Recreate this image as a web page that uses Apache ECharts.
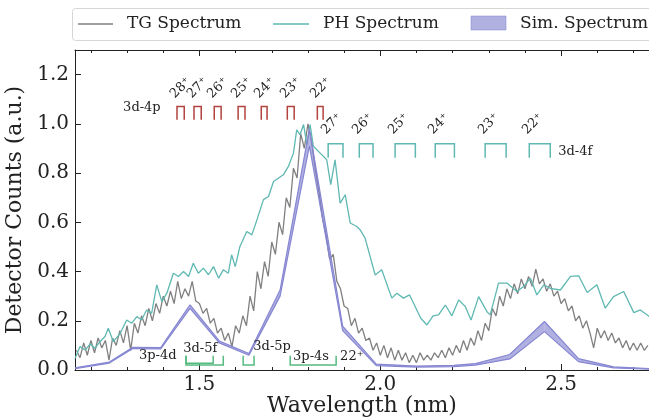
<!DOCTYPE html>
<html>
<head>
<meta charset="utf-8">
<script src="https://cdn.jsdelivr.net/npm/echarts@6/dist/echarts.min.js"></script>
<style>
  html, body { margin: 0; padding: 0; background: #fff; }
  #main { width: 649px; height: 420px; }
</style>
</head>
<body>
<div id="main"></div>
<script>
// TG spectrum, sampled on an even wavelength grid
var tgStart = 1.16, tgStep = 0.01;
var tgValues = [
  0.08, 0.05, 0.11, 0.06, 0.12, 0.07, 0.13, 0.09, 0.12, 0.04,
  0.13, 0.10, 0.16, 0.11, 0.18, 0.08, 0.19, 0.15, 0.22, 0.18,
  0.25, 0.20, 0.27, 0.23, 0.30, 0.26, 0.32, 0.27, 0.36, 0.29,
  0.33, 0.30, 0.36, 0.28, 0.27, 0.23, 0.25, 0.19, 0.21, 0.15,
  0.17, 0.12, 0.15, 0.095, 0.18, 0.15, 0.22, 0.18, 0.30, 0.24,
  0.40, 0.33, 0.44, 0.38, 0.52, 0.47, 0.60, 0.55, 0.70, 0.66,
  0.82, 0.78, 0.96, 0.90, 1.00, 0.93, 0.82, 0.73, 0.62, 0.55,
  0.45, 0.47, 0.36, 0.33, 0.26, 0.25, 0.18, 0.21, 0.15, 0.17,
  0.12, 0.13, 0.08, 0.11, 0.06, 0.10, 0.05, 0.09, 0.04, 0.08,
  0.04, 0.07, 0.03, 0.06, 0.03, 0.07, 0.04, 0.06, 0.04, 0.07,
  0.05, 0.08, 0.05, 0.09, 0.06, 0.10, 0.07, 0.12, 0.08, 0.13,
  0.10, 0.16, 0.12, 0.19, 0.16, 0.25, 0.22, 0.30, 0.26, 0.33,
  0.29, 0.35, 0.31, 0.37, 0.33, 0.38, 0.34, 0.41, 0.35, 0.37,
  0.32, 0.35, 0.30, 0.32, 0.27, 0.29, 0.24, 0.26, 0.20, 0.22,
  0.17, 0.20, 0.15, 0.09, 0.17, 0.13, 0.16, 0.12, 0.15, 0.11,
  0.13, 0.09, 0.12, 0.08, 0.11, 0.08, 0.11, 0.08, 0.10
];

// PH spectrum
var phWave = [
  1.156, 1.170, 1.184, 1.198, 1.211, 1.225, 1.239, 1.248, 1.262, 1.281,
  1.299, 1.313, 1.327, 1.340, 1.354, 1.368, 1.382, 1.396, 1.410, 1.428,
  1.442, 1.456, 1.470, 1.483, 1.497, 1.511, 1.525, 1.539, 1.553, 1.566,
  1.580, 1.589, 1.599, 1.612, 1.631, 1.645, 1.659, 1.677, 1.691, 1.705,
  1.719, 1.732, 1.746, 1.760, 1.769, 1.778, 1.788, 1.797, 1.806, 1.815,
  1.834, 1.852, 1.863, 1.875, 1.889, 1.903, 1.917, 1.935, 1.944, 1.958,
  1.986, 2.004, 2.032, 2.046, 2.064, 2.081, 2.112, 2.129, 2.146, 2.161,
  2.180, 2.198, 2.217, 2.235, 2.251, 2.272, 2.295, 2.304, 2.327, 2.350,
  2.378, 2.396, 2.415, 2.433, 2.452, 2.470, 2.498, 2.526, 2.549, 2.572,
  2.599, 2.622, 2.645, 2.673, 2.701, 2.719, 2.744
];
var phValues = [
  0.047, 0.095, 0.081, 0.106, 0.088, 0.115, 0.136, 0.170, 0.115, 0.149,
  0.203, 0.190, 0.217, 0.203, 0.244, 0.231, 0.346, 0.278, 0.312, 0.393,
  0.380, 0.400, 0.380, 0.434, 0.393, 0.414, 0.387, 0.420, 0.373, 0.407,
  0.393, 0.468, 0.420, 0.502, 0.563, 0.549, 0.610, 0.692, 0.705, 0.766,
  0.780, 0.793, 0.827, 0.881, 0.976, 0.956, 0.997, 0.915, 0.997, 0.909,
  0.881, 0.854, 0.753, 0.854, 0.678, 0.712, 0.597, 0.583, 0.570, 0.536,
  0.386, 0.407, 0.292, 0.312, 0.292, 0.305, 0.210, 0.183, 0.220, 0.224,
  0.264, 0.220, 0.285, 0.258, 0.203, 0.298, 0.237, 0.224, 0.353, 0.353,
  0.319, 0.339, 0.373, 0.305, 0.346, 0.332, 0.325, 0.380, 0.382, 0.315,
  0.346, 0.251, 0.298, 0.319, 0.233, 0.244, 0.217
];

// simulated spectrum band
var simWave  = [1.156, 1.251, 1.316, 1.393, 1.474, 1.555, 1.637, 1.723, 1.804, 1.896,
                1.989, 2.101, 2.203, 2.263, 2.358, 2.454, 2.548, 2.645, 2.744];
var simLower = [0.005, 0.028, 0.087, 0.086, 0.250, 0.110, 0.060, 0.300, 0.910, 0.160,
                0.018, 0.012, 0.014, 0.020, 0.045, 0.156, 0.034, 0.009, 0.003];
var simUpper = [0.009, 0.032, 0.092, 0.091, 0.265, 0.118, 0.067, 0.325, 0.980, 0.178,
                0.024, 0.016, 0.019, 0.026, 0.063, 0.197, 0.046, 0.013, 0.006];

var majorTicks = [1.5, 2.0, 2.5];
var minorTicks = [1.2, 1.3, 1.4, 1.6, 1.7, 1.8, 1.9, 2.1, 2.2, 2.3, 2.4, 2.6, 2.7];
var yTicks = [0, 0.2, 0.4, 0.6, 0.8, 1.0, 1.2];

// line identification markers
var p4Ions  = ['28', '27', '26', '25', '24', '23', '22'];
var p4Left  = [1.438, 1.485, 1.541, 1.607, 1.671, 1.743, 1.826];
var p4Right = [1.458, 1.505, 1.560, 1.626, 1.687, 1.762, 1.842];
var f4Ions  = ['27', '26', '25', '24', '23', '22'];
var f4Left  = [1.856, 1.942, 2.041, 2.152, 2.290, 2.412];
var f4Right = [1.897, 1.980, 2.097, 2.205, 2.348, 2.470];
var lowLeft   = [1.463, 1.463, 1.621, 1.751];
var lowRight  = [1.538, 1.566, 1.651, 1.878];
var lowBottom = [0.027, 0.020, 0.020, 0.020];
var lowLabels = ['3p-4d', '3d-5f', '3d-5p', '3p-4s', '22⁺'];
var lowLabelX = [1.333, 1.455, 1.649, 1.759, 1.889];
var lowLabelY = [0.057, 0.086, 0.093, 0.054, 0.053];

var serif = "'DejaVu Serif', serif";
var ink = '#222';
var tgColor = '#808080';
var phColor = '#5fb8b2';
var simLine = '#8686d2';
var simFill = 'rgba(128,128,206,0.62)';
var redColor = '#b2423d';
var greenColor = '#55bb80';

var xMin = 1.156, xMax = 2.743;

function bracketSeries(lefts, rights, yClosed, yOpen, color, ions, labelY) {
  return {
    type: 'custom',
    silent: true,
    z: 5,
    data: lefts.map(function (l, i) {
      return [l, rights[i], Array.isArray(yClosed) ? yClosed[i] : yClosed, yOpen];
    }),
    encode: { x: [0, 1], y: [2, 3] },
    renderItem: function (params, api) {
      var a = api.coord([api.value(0), api.value(3)]);
      var b = api.coord([api.value(0), api.value(2)]);
      var c = api.coord([api.value(1), api.value(2)]);
      var d = api.coord([api.value(1), api.value(3)]);
      var kids = [{
        type: 'polyline',
        shape: { points: [a, b, c, d] },
        style: { stroke: color, lineWidth: 1.5, fill: null }
      }];
      if (ions) {
        var t = api.coord([api.value(0), labelY]);
        kids.push({
          type: 'text', x: t[0], y: t[1], rotation: Math.PI / 4,
          style: { text: ions[params.dataIndex] + '⁺', fontSize: 13, fontFamily: serif,
                   fill: ink, align: 'left', verticalAlign: 'bottom' }
        });
      }
      return { type: 'group', children: kids };
    }
  };
}

// band pieces between consecutive simulated points
var bandData = [];
for (var i = 0; i < simWave.length - 1; i++) {
  bandData.push([simWave[i], simLower[i], simUpper[i], simWave[i + 1], simLower[i + 1], simUpper[i + 1]]);
}

var chart = echarts.init(document.getElementById('main'));

var option = {
  animation: false,
  grid: { left: 75, right: 0, top: 50, bottom: 50, outerBoundsMode: 'none', containLabel: false },
  xAxis: [
    {
      type: 'value', min: xMin, max: xMax, position: 'bottom',
      axisLine: { lineStyle: { color: ink, width: 1 } },
      axisTick: { inside: true, length: 6, customValues: majorTicks, lineStyle: { color: ink } },
      axisLabel: { customValues: majorTicks, formatter: function (v) { return v.toFixed(1); },
                   fontSize: 20, fontFamily: serif, color: ink, margin: 5 },
      splitLine: { show: false },
      name: 'Wavelength (nm)', nameLocation: 'middle', nameGap: 25, nameMoveOverlap: false,
      nameTextStyle: { fontSize: 22, fontFamily: serif, color: ink }
    },
    {
      type: 'value', min: xMin, max: xMax, position: 'bottom',
      axisLine: { show: false },
      axisTick: { inside: true, length: 3, customValues: minorTicks, lineStyle: { color: ink } },
      axisLabel: { show: false }, splitLine: { show: false }
    },
    {
      type: 'value', min: xMin, max: xMax, position: 'top',
      axisLine: { lineStyle: { color: ink, width: 1 } },
      axisTick: { inside: true, length: 6, customValues: majorTicks, lineStyle: { color: ink } },
      axisLabel: { show: false }, splitLine: { show: false }
    },
    {
      type: 'value', min: xMin, max: xMax, position: 'top',
      axisLine: { show: false },
      axisTick: { inside: true, length: 3, customValues: minorTicks, lineStyle: { color: ink } },
      axisLabel: { show: false }, splitLine: { show: false }
    }
  ],
  yAxis: {
    type: 'value', min: 0, max: 1.3, position: 'left',
    axisLine: { show: true, lineStyle: { color: ink, width: 1 } },
    axisTick: { show: true, inside: true, length: 6, customValues: yTicks, lineStyle: { color: ink } },
    axisLabel: { customValues: yTicks, formatter: function (v) { return v.toFixed(1); },
                 fontSize: 20, fontFamily: serif, color: ink, margin: 6 },
    splitLine: { show: false },
    name: 'Detector Counts (a.u.)', nameLocation: 'middle', nameGap: 43,
    nameTextStyle: { fontSize: 22, fontFamily: serif, color: ink }
  },
  series: [
    {
      name: 'TG Spectrum', type: 'line', symbol: 'none', z: 2,
      data: tgValues.map(function (v, i) { return [tgStart + i * tgStep, v]; }),
      lineStyle: { color: tgColor, width: 1.3 }
    },
    {
      name: 'PH Spectrum', type: 'line', symbol: 'none', z: 2,
      data: phWave.map(function (w, i) { return [w, phValues[i]]; }),
      lineStyle: { color: phColor, width: 1.3 }
    },
    {
      name: 'Sim. Spectrum', type: 'custom', silent: true, z: 3,
      data: bandData,
      encode: { x: [0, 3], y: [1, 2, 4, 5] },
      renderItem: function (params, api) {
        var p = [
          api.coord([api.value(0), api.value(1)]),
          api.coord([api.value(3), api.value(4)]),
          api.coord([api.value(3), api.value(5)]),
          api.coord([api.value(0), api.value(2)])
        ];
        return { type: 'polygon', shape: { points: p }, style: { fill: simFill, stroke: null } };
      }
    },
    {
      name: 'simLow', type: 'line', symbol: 'none', z: 4,
      data: simWave.map(function (w, i) { return [w, simLower[i]]; }),
      lineStyle: { color: simLine, width: 1.2 }
    },
    {
      name: 'simHigh', type: 'line', symbol: 'none', z: 4,
      data: simWave.map(function (w, i) { return [w, simUpper[i]]; }),
      lineStyle: { color: simLine, width: 1.2 }
    },
    bracketSeries(p4Left, p4Right, 1.07, 1.017, redColor, p4Ions, 1.094),
    bracketSeries(f4Left, f4Right, 0.919, 0.862, phColor, f4Ions, 0.948),
    bracketSeries(lowLeft, lowRight, lowBottom, 0.058, greenColor, null, 0),
    {
      type: 'custom', silent: true, z: 6,
      data: lowLabelX.map(function (x, i) { return [x, lowLabelY[i]]; }),
      renderItem: function (params, api) {
        var p = api.coord([api.value(0), api.value(1)]);
        return { type: 'text', x: p[0], y: p[1],
                 style: { text: lowLabels[params.dataIndex], fontSize: 13, fontFamily: serif,
                          fill: ink, align: 'left', verticalAlign: 'middle' } };
      }
    },
    {
      type: 'custom', silent: true, z: 6,
      data: [[1.289, 1.064], [2.492, 0.887]],
      renderItem: function (params, api) {
        var p = api.coord([api.value(0), api.value(1)]);
        return { type: 'text', x: p[0], y: p[1],
                 style: { text: params.dataIndex === 0 ? '3d-4p' : '3d-4f', fontSize: 13,
                          fontFamily: serif, fill: ink, align: 'left', verticalAlign: 'middle' } };
      }
    }
  ],
  graphic: [
    { type: 'rect', shape: { x: 72.5, y: 8.5, width: 640, height: 32, r: 3 },
      style: { fill: '#fff', stroke: '#d6d6d6', lineWidth: 1 } },
    { type: 'line', shape: { x1: 78, y1: 24, x2: 113, y2: 24 }, style: { stroke: tgColor, lineWidth: 1.5 } },
    { type: 'text', x: 127, y: 24, style: { text: 'TG Spectrum', font: '17px ' + serif, fill: ink, verticalAlign: 'middle' } },
    { type: 'line', shape: { x1: 273, y1: 24, x2: 309, y2: 24 }, style: { stroke: phColor, lineWidth: 1.5 } },
    { type: 'text', x: 323, y: 24, style: { text: 'PH Spectrum', font: '17px ' + serif, fill: ink, verticalAlign: 'middle' } },
    { type: 'rect', shape: { x: 471, y: 16, width: 35, height: 14 }, style: { fill: simFill, stroke: simLine, lineWidth: 0.5 } },
    { type: 'text', x: 520, y: 24, style: { text: 'Sim. Spectrum', font: '17px ' + serif, fill: ink, verticalAlign: 'middle' } }
  ]
};

chart.setOption(option);
</script>
</body>
</html>
